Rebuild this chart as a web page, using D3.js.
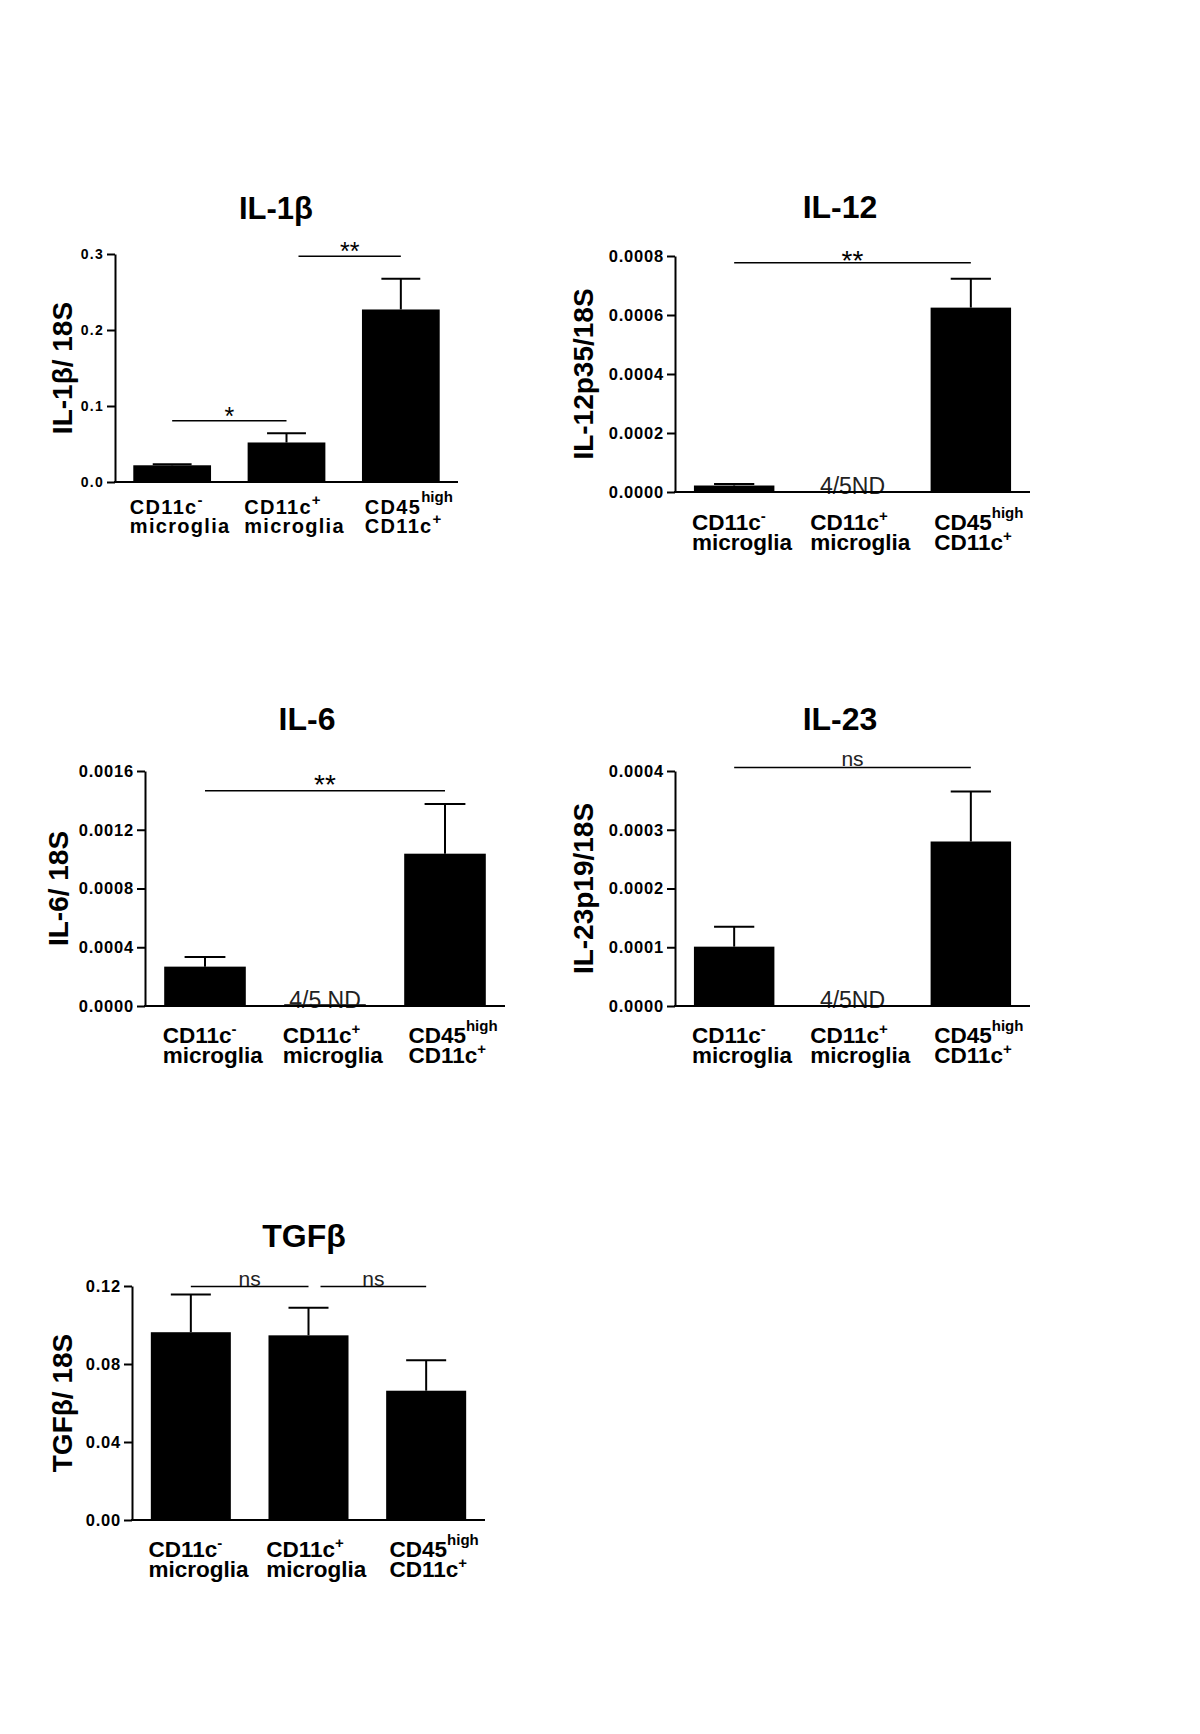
<!DOCTYPE html>
<html>
<head>
<meta charset="utf-8">
<script src="https://cdn.jsdelivr.net/npm/d3@7"></script>
<style>
body { margin: 0; background: #fff; }
</style>
</head>
<body>
<script>
// category labels (same for every panel)
const catMain = ["CD11c", "CD11c", "CD45"];
const catSup = ["-", "+", "high"];
const catLine2 = ["microglia", "microglia", "CD11c"];
const catLine2Sup = ["", "", "+"];

// IL-1b
const il1bMean = [0.022, 0.052, 0.227];
const il1bSem = [0.0015, 0.012, 0.0405];
const il1bTicks = [0, 0.1, 0.2, 0.3];
const il1bSig = [{ from: 0, to: 1, y: 0.0807, label: "*" }, { from: 1, to: 2, y: 0.297, label: "**" }];

// IL-12
const il12Mean = [0.000022, 0, 0.000625];
const il12Sem = [0.000005, 0, 0.000098];
const il12Ticks = [0, 0.0002, 0.0004, 0.0006, 0.0008];
const il12Sig = [{ from: 0, to: 2, y: 0.000777, label: "**" }];

// IL-6
const il6Mean = [0.000268, 0.000012, 0.001037];
const il6Sem = [0.000066, 0, 0.000338];
const il6Ticks = [0, 0.0004, 0.0008, 0.0012, 0.0016];
const il6Sig = [{ from: 0, to: 2, y: 0.001466, label: "**" }];

// IL-23
const il23Mean = [0.000101, 0, 0.00028];
const il23Sem = [0.000034, 0, 0.000085];
const il23Ticks = [0, 0.0001, 0.0002, 0.0003, 0.0004];
const il23Sig = [{ from: 0, to: 2, y: 0.000406, label: "ns" }];

// TGFb
const tgfMean = [0.0963, 0.0947, 0.0663];
const tgfSem = [0.0194, 0.0142, 0.0156];
const tgfTicks = [0, 0.04, 0.08, 0.12];
const tgfSig = [{ from: 0, to: 1, y: 0.1197, label: "ns" }, { from: 1, to: 2, y: 0.1197, label: "ns" }];

const width = 1200;
const height = 1734;

let svg = d3.select("body")
    .append("svg")
    .attr("width", width)
    .attr("height", height)
    .style("background", "#fff");

// layout of each panel (pixels)
let panels = [
    { title: "IL-1β", ylab: "IL-1β/ 18S", mean: il1bMean, sem: il1bSem, ticks: il1bTicks, sig: il1bSig, fmt: ".1f", nd: null,
      x0: 115, x1: 458, y0: 254, y1: 482, titleX: 276, titleY: 219, titleSize: 31, ylabX: 72,
      tickSize: 14, tickSpacing: 1.3, catSize: 20, catSpacing: 1.3, line1: 32, line2: 51, sigSize: 25, sigDy: 4 },
    { title: "IL-12", ylab: "IL-12p35/18S", mean: il12Mean, sem: il12Sem, ticks: il12Ticks, sig: il12Sig, fmt: ".4f", nd: { cat: 1, text: "4/5ND" },
      x0: 675, x1: 1030, y0: 256, y1: 492, titleX: 840, titleY: 218, titleSize: 32, ylabX: 593,
      tickSize: 16.5, tickSpacing: 0.8, catSize: 22.5, catSpacing: 0, line1: 38, line2: 58, sigSize: 28, sigDy: 7 },
    { title: "IL-6", ylab: "IL-6/ 18S", mean: il6Mean, sem: il6Sem, ticks: il6Ticks, sig: il6Sig, fmt: ".4f", nd: { cat: 1, text: "4/5 ND" },
      x0: 145, x1: 505, y0: 771, y1: 1006, titleX: 307, titleY: 730, titleSize: 32, ylabX: 68,
      tickSize: 16.5, tickSpacing: 0.8, catSize: 22.5, catSpacing: 0, line1: 37, line2: 57, sigSize: 28, sigDy: 3 },
    { title: "IL-23", ylab: "IL-23p19/18S", mean: il23Mean, sem: il23Sem, ticks: il23Ticks, sig: il23Sig, fmt: ".4f", nd: { cat: 1, text: "4/5ND" },
      x0: 675, x1: 1030, y0: 771, y1: 1006, titleX: 840, titleY: 730, titleSize: 32, ylabX: 593,
      tickSize: 16.5, tickSpacing: 0.8, catSize: 22.5, catSpacing: 0, line1: 37, line2: 57, sigSize: 28, sigDy: 7 },
    { title: "TGFβ", ylab: "TGFβ/ 18S", mean: tgfMean, sem: tgfSem, ticks: tgfTicks, sig: tgfSig, fmt: ".2f", nd: null,
      x0: 132, x1: 485, y0: 1286, y1: 1520, titleX: 304, titleY: 1247, titleSize: 32, ylabX: 72,
      tickSize: 16.5, tickSpacing: 0.8, catSize: 22.5, catSpacing: 0, line1: 37, line2: 57, sigSize: 28, sigDy: 7 }
];

const sans = "'Liberation Sans', Arial, sans-serif";

panels.forEach(p => {
    let g = svg.append("g");

    let x = d3.scaleBand()
        .domain([0, 1, 2])
        .range([p.x0, p.x1])
        .paddingInner(0.32)
        .paddingOuter(0.16);
    let y = d3.scaleLinear()
        .domain([0, p.ticks[p.ticks.length - 1]])
        .range([p.y1, p.y0]);
    let cx = i => x(i) + x.bandwidth() / 2;

    // bars
    g.selectAll("rect.bar")
        .data(p.mean)
        .join("rect")
        .attr("class", "bar")
        .attr("x", (d, i) => x(i))
        .attr("width", x.bandwidth())
        .attr("y", d => y(d))
        .attr("height", d => y(0) - y(d))
        .attr("fill", "#000");

    // error bars (upper only)
    let cap = x.bandwidth() / 4;
    p.mean.forEach((m, i) => {
        if (p.sem[i] <= 0) return;
        g.append("line")
            .attr("x1", cx(i)).attr("x2", cx(i))
            .attr("y1", y(m)).attr("y2", y(m + p.sem[i]))
            .attr("stroke", "#000").attr("stroke-width", 2);
        g.append("line")
            .attr("x1", cx(i) - cap).attr("x2", cx(i) + cap)
            .attr("y1", y(m + p.sem[i])).attr("y2", y(m + p.sem[i]))
            .attr("stroke", "#000").attr("stroke-width", 2);
    });

    // y axis
    let axisY = d3.axisLeft(y)
        .tickValues(p.ticks)
        .tickFormat(d3.format(p.fmt))
        .tickSize(8)
        .tickSizeOuter(0)
        .tickPadding(3);
    let ay = g.append("g")
        .attr("transform", `translate(${p.x0},0)`)
        .call(axisY);
    ay.select(".domain").attr("stroke-width", 2);
    ay.selectAll(".tick line").attr("stroke-width", 2);
    ay.selectAll(".tick text")
        .attr("font-family", sans)
        .attr("font-weight", "bold")
        .attr("font-size", p.tickSize)
        .attr("letter-spacing", p.tickSpacing)
        .attr("fill", "#000");

    // x axis line
    g.append("line")
        .attr("x1", p.x0 - 1).attr("x2", p.x1)
        .attr("y1", y(0)).attr("y2", y(0))
        .attr("stroke", "#000").attr("stroke-width", 2);

    // not detected note
    if (p.nd) {
        g.append("text")
            .attr("x", cx(p.nd.cat))
            .attr("y", y(0) + 2)
            .attr("text-anchor", "middle")
            .attr("font-family", sans)
            .attr("font-size", 23)
            .attr("fill", "#222")
            .text(p.nd.text);
        // axis drawn again over the note, as in the original
        g.append("line")
            .attr("x1", p.x0 - 1).attr("x2", p.x1)
            .attr("y1", y(0)).attr("y2", y(0))
            .attr("stroke", "#000").attr("stroke-width", 2);
    }

    // significance lines
    let ends = p.sig.map(s => s.to);
    p.sig.forEach(s => {
        let xa = cx(s.from) + (ends.includes(s.from) ? 12 : 0);
        let xb = cx(s.to);
        g.append("line")
            .attr("x1", xa).attr("x2", xb)
            .attr("y1", y(s.y)).attr("y2", y(s.y))
            .attr("stroke", "#000").attr("stroke-width", 1.5);
        let star = s.label !== "ns";
        g.append("text")
            .attr("x", (xa + xb) / 2)
            .attr("y", star ? y(s.y) + p.sigDy : y(s.y) - 1)
            .attr("text-anchor", "middle")
            .attr("font-family", sans)
            .attr("font-size", star ? p.sigSize : 21)
            .attr("fill", star ? "#000" : "#222")
            .text(s.label);
    });

    // category labels
    catMain.forEach((c, i) => {
        let lg = g.append("g");
        let t1 = lg.append("text")
            .attr("y", y(0) + p.line1)
            .attr("font-family", sans)
            .attr("font-size", p.catSize)
            .attr("font-weight", "bold")
            .attr("letter-spacing", p.catSpacing)
            .attr("fill", "#000");
        t1.append("tspan").text(c);
        t1.append("tspan")
            .attr("dy", catSup[i] === "high" ? -12 : -9)
            .attr("font-size", 15)
            .attr("letter-spacing", 0)
            .text(catSup[i]);
        let t2 = lg.append("text")
            .attr("y", y(0) + p.line2)
            .attr("font-family", sans)
            .attr("font-size", p.catSize)
            .attr("font-weight", "bold")
            .attr("letter-spacing", p.catSpacing)
            .attr("fill", "#000");
        t2.append("tspan").text(catLine2[i]);
        if (catLine2Sup[i]) {
            t2.append("tspan")
                .attr("dy", -9)
                .attr("font-size", 15)
                .attr("letter-spacing", 0)
                .text(catLine2Sup[i]);
        }
        let w = lg.node().getBBox().width;
        lg.attr("transform", `translate(${cx(i) + 8 - w / 2},0)`);
    });

    // y label
    g.append("text")
        .attr("transform", `translate(${p.ylabX},${(p.y0 + p.y1) / 2}) rotate(-90)`)
        .attr("text-anchor", "middle")
        .attr("font-family", sans)
        .attr("font-weight", "bold")
        .attr("font-size", 28)
        .attr("fill", "#000")
        .text(p.ylab);

    // title
    g.append("text")
        .attr("x", p.titleX)
        .attr("y", p.titleY)
        .attr("text-anchor", "middle")
        .attr("font-family", sans)
        .attr("font-weight", "bold")
        .attr("font-size", p.titleSize)
        .attr("fill", "#000")
        .text(p.title);
});
</script>
</body>
</html>
